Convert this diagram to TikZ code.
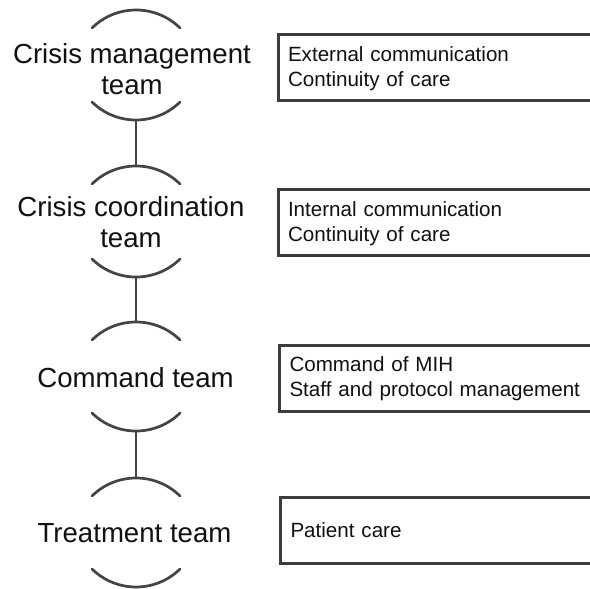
\documentclass[tikz,border=0pt]{standalone}
\usepackage{fontspec}
\setmainfont{Liberation Sans}
\definecolor{linegray}{HTML}{444444}
\definecolor{boxgray}{HTML}{3C3C3C}
\definecolor{txt}{HTML}{111111}
\begin{document}
\begin{tikzpicture}[x=1pt,y=-1pt,
  teamlabel/.style={font=\fontsize{27.6}{31}\selectfont, text=txt, align=center, inner sep=0pt, anchor=base},
  rolebox/.style={draw=boxgray, line width=3pt, minimum height=66pt, text width=330pt, align=left,
     inner xsep=10pt, inner ysep=0pt, anchor=west, text depth=26pt, font=\fontsize{20.6}{25}\selectfont, text=txt},
  arcline/.style={draw=linegray, line width=2.7pt, line cap=round}]
\clip (0,0) rectangle (590,589);
\fill[white] (0,0) rectangle (590,589);

% team labels (base anchor = baseline of last line)
\node[teamlabel] (t1) at (132,94) {Crisis management\\team};
\node[teamlabel] (t2) at (131,247) {Crisis coordination\\team};
\node[teamlabel] (t3) at (135.5,387) {Command team};
\node[teamlabel] (t4) at (134.5,542) {Treatment team};

% arc apexes
\coordinate (t1top) at (136,10);   \coordinate (t1bot) at (136,120);
\coordinate (t2top) at (136,166);  \coordinate (t2bot) at (136,277);
\coordinate (t3top) at (136,322);  \coordinate (t3bot) at (136,431);
\coordinate (t4top) at (136,478);  \coordinate (t4bot) at (136,587);

% arcs
\foreach \a in {t1top,t2top,t3top,t4top}{
  \draw[arcline] ([xshift=-44pt,yshift=-18pt]\a) arc[start angle=-134.5, end angle=-45.5, radius=62.8];
}
\foreach \a in {t1bot,t2bot,t3bot,t4bot}{
  \draw[arcline] ([xshift=-44pt,yshift=18pt]\a) arc[start angle=134.5, end angle=45.5, radius=62.8];
}

% connectors
\draw[arcline, line cap=butt] (t1bot) -- (t2top);
\draw[arcline, line cap=butt] (t2bot) -- (t3top);
\draw[arcline, line cap=butt] (t3bot) -- (t4top);

% role boxes
\node[rolebox] (b1) at (276.5,67.5) {External communication\\Continuity of care};
\node[rolebox] (b2) at (276.5,222.5) {Internal communication\\Continuity of care};
\node[rolebox, text depth=28pt] (b3) at (278,378.5) {Command of MIH\\Staff and protocol management};
\node[rolebox, text depth=0pt] (b4) at (279,530.5) {Patient care};
\end{tikzpicture}
\end{document}
